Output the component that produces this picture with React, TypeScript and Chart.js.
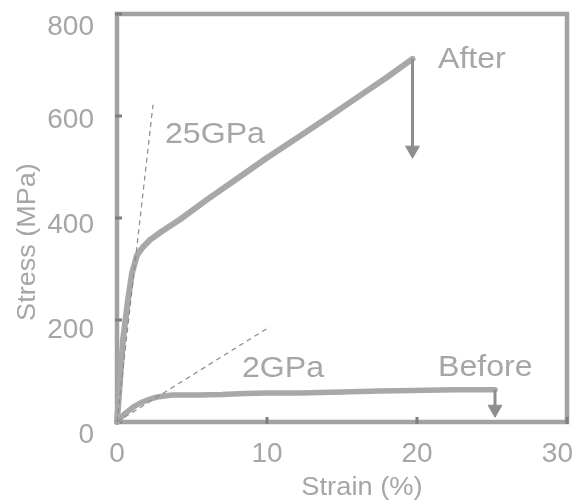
import { useEffect, useRef } from 'react';
import { Chart, registerables } from 'chart.js';

Chart.register(...registerables);

// ---- data ----
const afterStrain = [0, 0.4, 0.73, 1.0, 1.33, 1.73, 2.2, 3.0, 4.2, 6.0, 8.0, 10, 12, 14, 16, 18, 19.7];
const afterStress = [0, 161, 239, 292, 327, 343, 357, 374, 397, 436, 477, 518, 557, 596, 636, 676, 712];

const beforeStrain = [0, 0.5, 1.07, 1.6, 2.2, 2.67, 3.67, 5.5, 7.0, 8.5, 10, 12.2, 15, 17.5, 19.7, 22.5, 25.2];
const beforeStress = [0, 16, 29, 38, 45, 49, 53, 53, 54, 56, 57, 57, 59, 61, 62, 63, 63];

const afterArrowStrain = [19.7, 19.7];
const afterArrowStress = [712, 533];
const beforeArrowStrain = [25.2, 25.2];
const beforeArrowStress = [63, 25];

const modulus25Strain = [0, 2.4];
const modulus25Stress = [0, 622];
const modulus2Strain = [0, 10.2];
const modulus2Stress = [0, 187];

const xTicks = [0, 10, 20, 30];
const yTicks = [0, 200, 400, 600, 800];

const xTitle = 'Strain (%)';
const yTitle = 'Stress (MPa)';

const labelTexts = ['After', '25GPa', '2GPa', 'Before'];
const labelStrain = [21.4, 3.2, 8.33, 21.4];
const labelStress = [694, 547, 88, 90];

// ---- styles ----
const FONT = '"Liberation Sans", Arial, sans-serif';
const TEXT = '#a6a6a6';
const CURVE = '#a8a8a8';
const ARROW = '#8e8e8e';
const FRAME = '#a2a2a2';
const TICK = '#7e7e7e';
const DASH = '#8a8a8a';

const pts = (xs: number[], ys: number[]) => xs.map((x, i) => ({ x, y: ys[i] }));

function drawText(
  ctx: CanvasRenderingContext2D,
  text: string,
  x: number,
  y: number,
  size: number,
  align: CanvasTextAlign,
  sx = 1
) {
  ctx.save();
  ctx.font = `${size}px ${FONT}`;
  ctx.fillStyle = TEXT;
  ctx.textBaseline = 'alphabetic';
  ctx.textAlign = align;
  ctx.translate(x, y);
  ctx.scale(sx, 1);
  ctx.fillText(text, 0, 0);
  ctx.restore();
}

const decor = {
  id: 'decor',
  beforeDatasetsDraw(chart: any) {
    const { ctx, chartArea: a, scales } = chart;
    const xs = scales.x;
    const ys = scales.y;
    ctx.save();
    ctx.strokeStyle = FRAME;
    ctx.lineWidth = 4.5;
    ctx.strokeRect(a.left, a.top, a.right - a.left, a.bottom - a.top);
    ctx.strokeStyle = TICK;
    ctx.lineWidth = 3;
    xTicks.forEach((v) => {
      const px = xs.getPixelForValue(v);
      ctx.beginPath();
      ctx.moveTo(px, a.bottom + 2);
      ctx.lineTo(px, a.bottom - 5);
      ctx.stroke();
    });
    yTicks.forEach((v) => {
      const py = ys.getPixelForValue(v);
      ctx.beginPath();
      ctx.moveTo(a.left - 2, py);
      ctx.lineTo(a.left + 5, py);
      ctx.stroke();
    });
    ctx.restore();
  },
  afterDraw(chart: any) {
    const { ctx, chartArea: a, scales } = chart;
    const xs = scales.x;
    const ys = scales.y;
    const tickSize = 28;
    // y tick labels
    const y0 = ys.getPixelForValue(0);
    yTicks.forEach((v) => {
      const py = ys.getPixelForValue(v);
      const cy = Math.max(py + 11 - (y0 - py) * 0.03, 25);
      drawText(ctx, String(v), a.left - 23, cy + tickSize * 0.35, tickSize, 'right');
    });
    // x tick labels
    ctx.save();
    ctx.font = `${tickSize}px ${FONT}`;
    xTicks.forEach((v) => {
      const txt = String(v);
      const w = ctx.measureText(txt).width;
      let cx = xs.getPixelForValue(v);
      cx = Math.min(cx, 573 - w / 2);
      drawText(ctx, txt, cx, a.bottom + 39.5, tickSize, 'center');
    });
    ctx.restore();
    // axis titles
    drawText(ctx, xTitle, (a.left + a.right) / 2 + 20, a.bottom + 73, 26, 'center', 1.05);
    ctx.save();
    ctx.translate(35, (a.top + a.bottom) / 2 + 24);
    ctx.rotate(-Math.PI / 2);
    drawText(ctx, yTitle, 0, 0, 26, 'center', 1.04);
    ctx.restore();
    // annotations
    labelTexts.forEach((t, i) => {
      drawText(
        ctx,
        t,
        xs.getPixelForValue(labelStrain[i]),
        ys.getPixelForValue(labelStress[i]),
        30,
        'left',
        1.07
      );
    });
  },
};

export default function App() {
  const ref = useRef<HTMLCanvasElement | null>(null);

  useEffect(() => {
    if (!ref.current) return;
    const common = { pointRadius: 0, tension: 0, clip: false as any, fill: false };
    const chart = new Chart(ref.current, {
      type: 'line',
      data: {
        datasets: [
          {
            ...common,
            label: '25GPa',
            data: pts(modulus25Strain, modulus25Stress),
            borderColor: DASH,
            borderWidth: 1.2,
            borderDash: [5, 4],
            order: 0,
          },
          {
            ...common,
            label: '2GPa',
            data: pts(modulus2Strain, modulus2Stress),
            borderColor: DASH,
            borderWidth: 1.2,
            borderDash: [5, 4],
            order: 0,
          },
          {
            ...common,
            label: 'After arrow',
            data: pts(afterArrowStrain, afterArrowStress),
            borderColor: ARROW,
            borderWidth: 3,
            pointRadius: [0, 8],
            pointStyle: 'triangle',
            pointRotation: 180,
            pointBackgroundColor: ARROW,
            pointBorderColor: ARROW,
            pointBorderWidth: 1,
            order: 0,
          },
          {
            ...common,
            label: 'Before arrow',
            data: pts(beforeArrowStrain, beforeArrowStress),
            borderColor: ARROW,
            borderWidth: 3,
            pointRadius: [0, 8],
            pointStyle: 'triangle',
            pointRotation: 180,
            pointBackgroundColor: ARROW,
            pointBorderColor: ARROW,
            pointBorderWidth: 1,
            order: 0,
          },
          {
            ...common,
            label: 'After',
            data: pts(afterStrain, afterStress),
            borderColor: CURVE,
            borderWidth: 6,
            borderJoinStyle: 'round',
            borderCapStyle: 'round',
            order: 1,
          },
          {
            ...common,
            label: 'Before',
            data: pts(beforeStrain, beforeStress),
            borderColor: CURVE,
            borderWidth: 5.5,
            borderJoinStyle: 'round',
            borderCapStyle: 'round',
            order: 1,
          },
        ] as any,
      },
      options: {
        responsive: false,
        animation: false,
        layout: { padding: { left: 117, right: 14, top: 14, bottom: 78 } },
        plugins: { legend: { display: false }, tooltip: { enabled: false } },
        scales: {
          x: { type: 'linear', min: 0, max: 30, display: false },
          y: { type: 'linear', min: 0, max: 800, display: false },
        },
      },
      plugins: [decor],
    });
    return () => chart.destroy();
  }, []);

  return (
    <div style={{ position: 'fixed', left: 0, top: 0, width: 581, height: 500, background: '#fff' }}>
      <canvas ref={ref} width={581} height={500} style={{ display: 'block' }} />
    </div>
  );
}
